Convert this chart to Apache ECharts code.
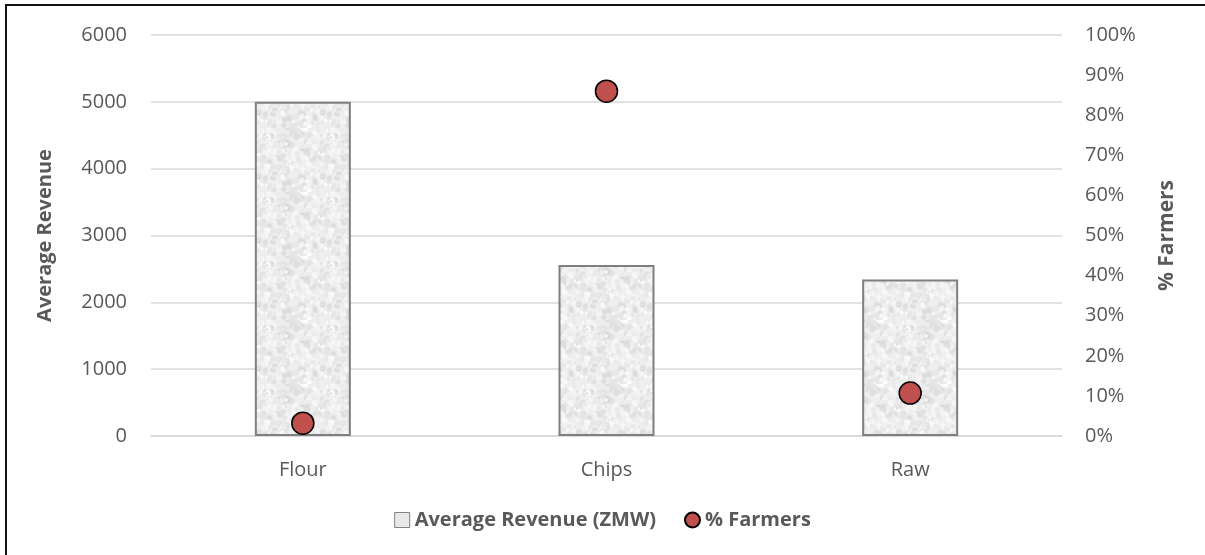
<!DOCTYPE html>
<html>
<head>
<meta charset="utf-8">
<script src="https://cdn.jsdelivr.net/npm/echarts@6/dist/echarts.min.js"></script>
<style>
  html, body { margin: 0; padding: 0; background: #fff; }
  #chart { width: 1205px; height: 555px; }
</style>
</head>
<body>
<div id="chart"></div>
<script>
// Product forms and their figures
const categories = ['Flour', 'Chips', 'Raw'];
const avgRevenue = [5000, 2560, 2340];      // ZMW
const pctFarmers = [0.032, 0.86, 0.107];    // share of farmers
const revenueTicks = { min: 0, max: 6000, interval: 1000 };
const pctTicks = { min: 0, max: 1, interval: 0.1 };

// Speckled light-grey fill for the bars (deterministic pseudo-noise)
function makeTexture() {
  const c = document.createElement('canvas');
  c.width = 64; c.height = 64;
  const ctx = c.getContext('2d');
  ctx.fillStyle = '#efefef';
  ctx.fillRect(0, 0, 64, 64);
  let s = 12345;
  const rnd = () => { s = (s * 1103515245 + 12345) & 0x7fffffff; return s / 0x7fffffff; };
  for (let i = 0; i < 420; i++) {
    const x = rnd() * 64, y = rnd() * 64, r = 1 + rnd() * 2.2;
    const g = Math.round(215 + rnd() * 40);
    ctx.fillStyle = `rgba(${g},${g},${g},0.7)`;
    ctx.beginPath(); ctx.arc(x, y, r, 0, Math.PI * 2); ctx.fill();
  }
  return c;
}

const font = '"Open Sans", "Noto Sans", sans-serif';
const textGrey = '#595959';
const chart = echarts.init(document.getElementById('chart'), null, { renderer: 'canvas' });

chart.setOption({
  animation: false,
  backgroundColor: '#ffffff',
  textStyle: { fontFamily: font },
  graphic: [{
    type: 'rect',
    shape: { x: 6, y: 5, width: 1250, height: 600 },
    style: { fill: 'none', stroke: '#111', lineWidth: 2 },
    silent: true
  }],
  legend: {
    bottom: 20,
    left: 'center',
    itemGap: 28,
    itemWidth: 15,
    itemHeight: 15,
    textStyle: { color: textGrey, fontSize: 20, fontWeight: 'bold', fontFamily: font },
    data: [
      { name: 'Average Revenue (ZMW)', icon: 'rect',
        itemStyle: { color: '#e8e8e8', borderColor: '#808080', borderWidth: 1 } },
      { name: '% Farmers', icon: 'circle' }
    ]
  },
  grid: { left: 151, right: 143, top: 35, bottom: 119 },
  xAxis: {
    type: 'category',
    data: categories,
    axisLine: { lineStyle: { color: '#d9d9d9', width: 1.5 } },
    axisTick: { show: false },
    axisLabel: { color: textGrey, fontSize: 20, margin: 24, fontFamily: font }
  },
  yAxis: [
    {
      type: 'value',
      min: revenueTicks.min, max: revenueTicks.max, interval: revenueTicks.interval,
      name: 'Average Revenue',
      nameLocation: 'middle',
      nameGap: 96,
      nameTextStyle: { color: textGrey, fontSize: 20, fontWeight: 'bold', fontFamily: font },
      axisLabel: { color: textGrey, fontSize: 20, margin: 24, fontFamily: font,
        formatter: v => String(v) },
      axisLine: { show: false },
      axisTick: { show: false },
      splitLine: { lineStyle: { color: '#d9d9d9', width: 1.5 } }
    },
    {
      type: 'value',
      min: pctTicks.min, max: pctTicks.max, interval: pctTicks.interval,
      name: '% Farmers',
      nameLocation: 'middle',
      nameGap: 95,
      nameTextStyle: { color: textGrey, fontSize: 21, fontWeight: 'bold', fontFamily: font },
      axisLabel: {
        color: textGrey, fontSize: 20, margin: 23, fontFamily: font,
        formatter: v => Math.round(v * 100) + '%'
      },
      axisLine: { show: false },
      axisTick: { show: false },
      splitLine: { show: false }
    }
  ],
  series: [
    {
      name: 'Average Revenue (ZMW)',
      type: 'bar',
      yAxisIndex: 0,
      data: avgRevenue,
      barWidth: 96,
      itemStyle: {
        color: { image: makeTexture(), repeat: 'repeat' },
        borderColor: '#7f7f7f',
        borderWidth: 2
      },
      z: 2
    },
    {
      name: '% Farmers',
      type: 'scatter',
      yAxisIndex: 1,
      data: pctFarmers,
      symbol: 'circle',
      symbolSize: 22,
      itemStyle: { color: '#c0504d', borderColor: '#000', borderWidth: 1.5, opacity: 1 },
      z: 5
    }
  ]
});
</script>
</body>
</html>
